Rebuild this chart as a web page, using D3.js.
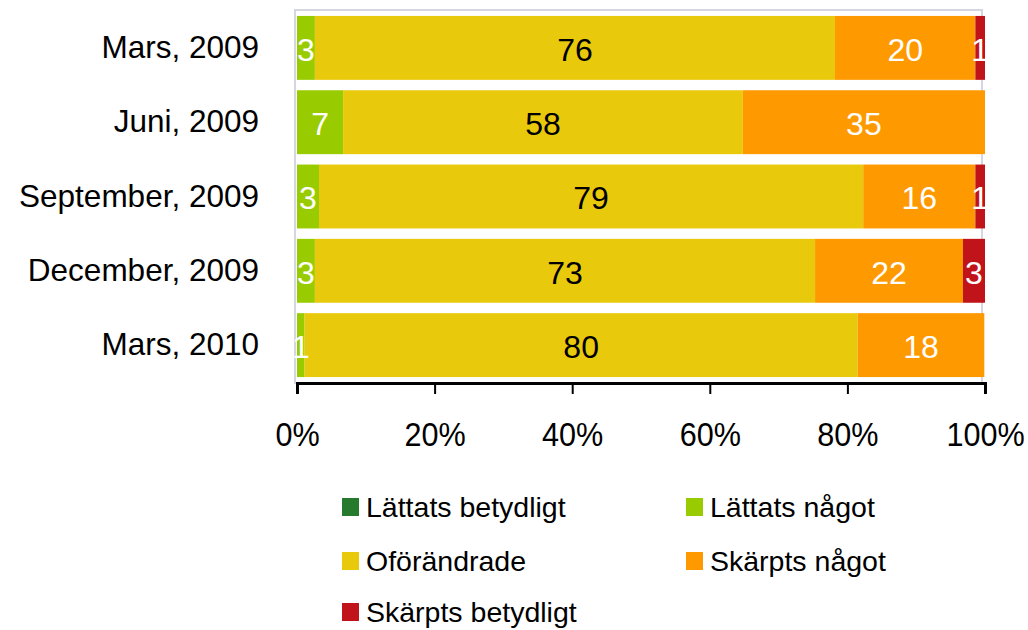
<!DOCTYPE html>
<html>
<head>
<meta charset="utf-8">
<script src="https://cdn.jsdelivr.net/npm/d3@7"></script>
<style>
  body { margin: 0; background: #fff; }
  text { font-family: "Liberation Sans", Arial, sans-serif; }
</style>
</head>
<body>
<svg width="1028" height="630"></svg>
<script>
// categories and series (percent of respondents)
var categories = ["Mars, 2009", "Juni, 2009", "September, 2009", "December, 2009", "Mars, 2010"];
var series = ["Lättats betydligt", "Lättats något", "Oförändrade", "Skärpts något", "Skärpts betydligt"];
var lattatsBetydligt = [0, 0, 0, 0, 0];
var lattatsNagot     = [2.6, 6.7, 3.2, 2.6, 1.1];
var oforandrade      = [75.6, 58.1, 79.1, 72.7, 80.4];
var skarptsNagot     = [20.4, 35.2, 16.3, 21.5, 18.4];
var skarptsBetydligt = [1.4, 0, 1.4, 3.2, 0];
var ticks = [0, 20, 40, 60, 80, 100];

var colors = ["#267a2e", "#99cc00", "#e8c90c", "#ff9900", "#c0141a"];
var labelColors = ["#fff", "#fff", "#000", "#fff", "#fff"];

var svg = d3.select("svg");
var plotLeft = 297, plotRight = 985, plotTop = 10, plotBottom = 383;

var x = d3.scaleLinear().domain([0, 100]).range([plotLeft, plotRight]);
var y = d3.scaleBand().domain(categories).range([plotTop, plotBottom]).paddingInner(0.14).paddingOuter(0.08);

// table for stacking
var table = categories.map(function(c, i) {
    return {
        cat: c,
        "Lättats betydligt": lattatsBetydligt[i],
        "Lättats något": lattatsNagot[i],
        "Oförändrade": oforandrade[i],
        "Skärpts något": skarptsNagot[i],
        "Skärpts betydligt": skarptsBetydligt[i]
    };
});
var stacked = d3.stack().keys(series)(table);

// plot frame
svg.append("rect")
    .attr("x", plotLeft - 2).attr("y", plotTop)
    .attr("width", plotRight - plotLeft - 1).attr("height", plotBottom - plotTop)
    .attr("fill", "none").attr("stroke", "#d4d7e2").attr("stroke-width", 2);

var groups = svg.selectAll("g.layer")
    .data(stacked)
    .enter().append("g")
    .attr("class", "layer")
    .attr("fill", function(d, i) { return colors[i]; });

groups.selectAll("rect")
    .data(function(d) { return d; })
    .enter().append("rect")
    .attr("x", function(d) { return x(d[0]); })
    .attr("y", function(d) { return y(d.data.cat); })
    .attr("width", function(d) { return x(d[1]) - x(d[0]); })
    .attr("height", y.bandwidth());

// value labels
stacked.forEach(function(layer, li) {
    svg.append("g").selectAll("text")
        .data(layer.filter(function(d) { return d[1] - d[0] > 0; }))
        .enter().append("text")
        .attr("x", function(d) { return (x(d[0]) + x(d[1])) / 2; })
        .attr("y", function(d) { return y(d.data.cat) + y.bandwidth() / 2; })
        .attr("dy", "0.4em")
        .attr("text-anchor", "middle")
        .attr("font-size", 32)
        .attr("fill", labelColors[li])
        .text(function(d) { return Math.round(d[1] - d[0]); });
});

// category labels
svg.append("g").selectAll("text")
    .data(categories)
    .enter().append("text")
    .attr("x", 259)
    .attr("y", function(d) { return y(d) + y.bandwidth() / 2; })
    .attr("dy", "0.32em")
    .attr("text-anchor", "end")
    .attr("font-size", 31.5)
    .text(function(d) { return d; });

// x axis
var xAxis = d3.axisBottom(x).tickValues(ticks).tickSize(11).tickPadding(28)
    .tickFormat(function(d) { return d + "%"; });
var ax = svg.append("g").attr("transform", "translate(0," + plotBottom + ")").call(xAxis);
ax.select(".domain").attr("stroke", "#000").attr("stroke-width", 3);
ax.selectAll(".tick line").attr("stroke", "#000").attr("stroke-width", 2);
ax.selectAll(".tick text").attr("font-size", 34).attr("fill", "#000")
    .attr("transform", "scale(0.9,1)")
    .style("font-family", "Liberation Sans, Arial, sans-serif");

// legend
var legendPos = [[342, 507], [686, 507], [342, 561], [686, 561], [342, 612]];
var legend = svg.append("g").selectAll("g")
    .data(series)
    .enter().append("g")
    .attr("transform", function(d, i) { return "translate(" + legendPos[i] + ")"; });
legend.append("rect")
    .attr("x", 0).attr("y", -9).attr("width", 17).attr("height", 18)
    .attr("fill", function(d, i) { return colors[i]; });
legend.append("text")
    .attr("x", 24).attr("dy", "0.35em")
    .attr("font-size", 28.5)
    .text(function(d) { return d; });
</script>
</body>
</html>
